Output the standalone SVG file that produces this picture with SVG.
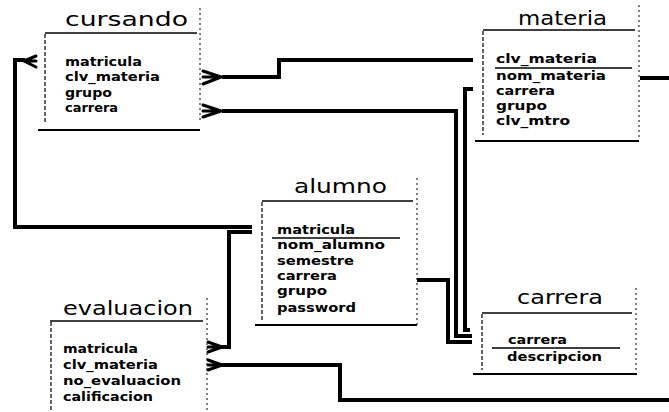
<svg xmlns="http://www.w3.org/2000/svg" width="669" height="412" viewBox="0 0 669 412">
<style>
.bg{fill:#fff}
.title{font-family:"DejaVu Sans","Liberation Sans",sans-serif;font-size:19px;fill:#000}
.fld{font-family:"DejaVu Sans","Liberation Sans",sans-serif;font-size:12px;font-weight:bold;fill:#000}
.top{stroke:#000;stroke-width:1.5;fill:none}
.bot{stroke:#000;stroke-width:2;fill:none}
.ld{stroke:#000;stroke-width:1.2;stroke-dasharray:4 2;fill:none}
.rd{stroke:#000;stroke-width:1;stroke-dasharray:2 3;fill:none}
.ul{stroke:#000;stroke-width:1.3}
.con{stroke:#000;stroke-width:4;fill:none}
.crow{stroke:#000;stroke-width:3;fill:none;stroke-linecap:round}
</style>
<rect class="bg" x="0" y="0" width="669" height="412"/>
<g id="cursando">
<text class="title" x="65" y="26" textLength="123" lengthAdjust="spacingAndGlyphs">cursando</text>
<line class="top" x1="45" y1="33" x2="197" y2="33"/>
<line class="ld" x1="45" y1="34" x2="45" y2="123"/>
<line class="rd" x1="200" y1="8" x2="200" y2="121"/>
<line class="bot" x1="38" y1="130" x2="200" y2="130"/>
<text class="fld" x="65" y="66" textLength="77" lengthAdjust="spacingAndGlyphs">matricula</text>
<text class="fld" x="65" y="81" textLength="95" lengthAdjust="spacingAndGlyphs">clv_materia</text>
<text class="fld" x="65" y="97" textLength="47" lengthAdjust="spacingAndGlyphs">grupo</text>
<text class="fld" x="65" y="112" textLength="53" lengthAdjust="spacingAndGlyphs">carrera</text>
</g>
<g id="materia">
<text class="title" x="518" y="25" textLength="89" lengthAdjust="spacingAndGlyphs">materia</text>
<line class="top" x1="483" y1="30" x2="635" y2="30"/>
<line class="ld" x1="483" y1="31" x2="483" y2="135"/>
<line class="rd" x1="639" y1="5" x2="639" y2="140"/>
<line class="bot" x1="475" y1="141" x2="639" y2="141"/>
<text class="fld" x="496" y="63" textLength="101" lengthAdjust="spacingAndGlyphs">clv_materia</text>
<line class="ul" x1="495" y1="68" x2="632" y2="68"/>
<text class="fld" x="496" y="80" textLength="110" lengthAdjust="spacingAndGlyphs">nom_materia</text>
<text class="fld" x="496" y="95" textLength="59" lengthAdjust="spacingAndGlyphs">carrera</text>
<text class="fld" x="496" y="110" textLength="51" lengthAdjust="spacingAndGlyphs">grupo</text>
<text class="fld" x="496" y="125" textLength="74" lengthAdjust="spacingAndGlyphs">clv_mtro</text>
</g>
<g id="alumno">
<text class="title" x="294" y="193" textLength="93" lengthAdjust="spacingAndGlyphs">alumno</text>
<line class="top" x1="262" y1="201" x2="413" y2="201"/>
<line class="ld" x1="262" y1="202" x2="262" y2="322"/>
<line class="rd" x1="417" y1="178" x2="417" y2="325"/>
<line class="bot" x1="255" y1="325" x2="417" y2="325"/>
<text class="fld" x="277" y="234" textLength="78" lengthAdjust="spacingAndGlyphs">matricula</text>
<line class="ul" x1="272" y1="238" x2="400" y2="238"/>
<text class="fld" x="277" y="249" textLength="108" lengthAdjust="spacingAndGlyphs">nom_alumno</text>
<text class="fld" x="277" y="265" textLength="77" lengthAdjust="spacingAndGlyphs">semestre</text>
<text class="fld" x="277" y="280" textLength="60" lengthAdjust="spacingAndGlyphs">carrera</text>
<text class="fld" x="277" y="295" textLength="50" lengthAdjust="spacingAndGlyphs">grupo</text>
<text class="fld" x="277" y="312" textLength="79" lengthAdjust="spacingAndGlyphs">password</text>
</g>
<g id="evaluacion">
<text class="title" x="63" y="315" textLength="130" lengthAdjust="spacingAndGlyphs">evaluacion</text>
<line class="top" x1="50" y1="321" x2="203" y2="321"/>
<line class="ld" x1="51" y1="322" x2="51" y2="410"/>
<line class="rd" x1="207" y1="298" x2="207" y2="412"/>
<text class="fld" x="63" y="353" textLength="75" lengthAdjust="spacingAndGlyphs">matricula</text>
<text class="fld" x="63" y="369" textLength="95" lengthAdjust="spacingAndGlyphs">clv_materia</text>
<text class="fld" x="63" y="385" textLength="118" lengthAdjust="spacingAndGlyphs">no_evaluacion</text>
<text class="fld" x="63" y="401" textLength="90" lengthAdjust="spacingAndGlyphs">calificacion</text>
</g>
<g id="carrera">
<text class="title" x="517" y="304" textLength="86" lengthAdjust="spacingAndGlyphs">carrera</text>
<line class="top" x1="482" y1="313" x2="632" y2="313"/>
<line class="ld" x1="482" y1="314" x2="482" y2="370"/>
<line class="rd" x1="636" y1="288" x2="636" y2="374"/>
<line class="bot" x1="473" y1="374" x2="637" y2="374"/>
<text class="fld" x="508" y="344" textLength="59" lengthAdjust="spacingAndGlyphs">carrera</text>
<line class="ul" x1="492" y1="348" x2="620" y2="348"/>
<text class="fld" x="507" y="361" textLength="95" lengthAdjust="spacingAndGlyphs">descripcion</text>
</g>
<g id="connectors">
<path class="con" d="M222,77 H279 V60 H473"/>
<path class="con" d="M222,111 H456 V336 H472"/>
<path class="con" d="M473,89 H465 V330 H470"/>
<path class="con" d="M417,280 H448 V342 H472"/>
<path class="con" d="M252,227 H15 V60 H25"/>
<path class="con" d="M252,232 H229 V347 H222"/>
<path class="con" d="M222,365 H340 V400 H669"/>
<path class="con" d="M640,78 H669"/>
<path class="crow" d="M24,61 L36,56 M24,61 L36,61 M24,61 L36,67"/>
<path class="crow" d="M221,77 L203,71 M221,77 L203,77 M221,77 L203,84"/>
<path class="crow" d="M221,111 L203,105 M221,111 L203,111 M221,111 L203,117"/>
<path class="crow" d="M222,347 L208,342 M222,347 L208,347 M222,347 L208,352"/>
<path class="crow" d="M222,365 L208,360 M222,365 L208,365 M222,365 L208,370"/>
</g>
</svg>
